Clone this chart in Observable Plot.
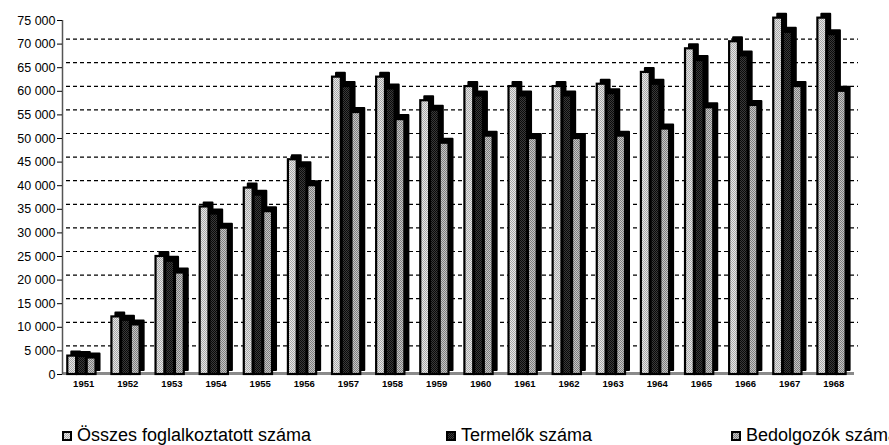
<!DOCTYPE html>
<html>
<head>
<meta charset="utf-8">
<script src="https://cdn.jsdelivr.net/npm/d3@7"></script>
<script src="https://cdn.jsdelivr.net/npm/@observablehq/plot@0.6"></script>
<style>
  html, body { margin: 0; padding: 0; background: #fff; overflow: hidden; width: 889px; height: 445px; }
  #legend { position: relative; height: 45px; width: 889px; overflow: hidden; font-family: "Liberation Sans", Arial, sans-serif; font-size: 18px; color: #000; }
  .item { position: absolute; top: 25px; white-space: nowrap; display: flex; align-items: center; line-height: 20px; }
  .item svg { margin-right: 5px; margin-top: 2px; }
</style>
</head>
<body>
<div id="chart"></div>
<div id="legend"></div>
<script>
const years = [1951,1952,1953,1954,1955,1956,1957,1958,1959,1960,1961,1962,1963,1964,1965,1966,1967,1968];
const osszes =     [3900,12200,25000,35500,39500,45500,63000,63000,58000,61000,61000,61000,61500,64000,69000,70500,75500,75500];
const termelok =   [3800,11500,24000,34000,38000,44000,61000,60500,56000,59000,59000,59000,59500,61500,66500,67500,72500,72000];
const bedolgozok = [3500,10500,21500,31000,34500,40000,55500,54000,49000,50500,50000,50000,50500,52000,56500,57000,61000,60000];
const seriesNames = ["Összes foglalkoztatott száma", "Termelők száma", "Bedolgozók száma"];
const yTicks = d3.range(0, 75001, 5000);
const gridTicks = d3.range(5000, 70001, 5000);

const patterns = ["p1", "p2", "p3"];
const seriesValues = [osszes, termelok, bedolgozok];
const xDomain = [1950.52, 1968.47];

const fmt = d => d3.format(",")(d).replace(/,/g, " ");

const marks = [
  Plot.ruleY(gridTicks, {y: d => d, stroke: "#000", strokeWidth: 1.2, strokeDasharray: "4,3", dx: 4, dy: -5}),
  Plot.ruleY([0], {stroke: "#8a8a8a", strokeWidth: 3, dy: -1}),
  Plot.ruleX([xDomain[0]], {y1: 0, y2: 75000, stroke: "#555", strokeWidth: 1.5})
];
seriesValues.forEach((vals, k) => {
  const rows = years.map((y, i) => ({year: y, value: vals[i]}));
  const x1 = d => d.year - 0.36 + k * 0.22;
  const x2 = d => d.year - 0.36 + k * 0.22 + 0.2;
  marks.push(Plot.rectY(rows, {x1, x2, y1: 0, y2: "value", fill: "#000", stroke: "#000", strokeWidth: 2, strokeLinejoin: "round", dx: 4, dy: -4}));
  marks.push(Plot.rectY(rows, {x1, x2, y1: 0, y2: "value", fill: `url(#${patterns[k]})`, stroke: "#000", strokeWidth: 2.2}));
});
marks.push(Plot.axisY({ticks: yTicks, tickFormat: fmt, tickSize: 5, tickPadding: 2, fontSize: 12.5, label: null}));
marks.push(Plot.axisX({ticks: years, tickFormat: d => String(d), tickSize: 0, tickPadding: 6, fontSize: 9.5, fontWeight: "bold", label: null}));

const chart = Plot.plot({
  width: 889,
  height: 400,
  marginTop: 20,
  marginBottom: 26,
  marginLeft: 62,
  marginRight: 35,
  style: {fontFamily: "'Liberation Sans', Arial, sans-serif", color: "#000", background: "#fff", overflow: "visible"},
  x: {type: "linear", domain: xDomain},
  y: {domain: [0, 75000]},
  marks
});

const ns = "http://www.w3.org/2000/svg";
const defs = document.createElementNS(ns, "defs");
const patDefs = [
  ["p1", "#a8a8a8", "#e6e6e6"],
  ["p2", "#0a0a0a", "#3a3a3a"],
  ["p3", "#7e7e7e", "#c4c4c4"]
];
patDefs.forEach(([id, a, b]) => {
  const p = document.createElementNS(ns, "pattern");
  p.setAttribute("id", id);
  p.setAttribute("width", 2);
  p.setAttribute("height", 2);
  p.setAttribute("patternUnits", "userSpaceOnUse");
  [[0,0,a],[1,0,b],[0,1,b],[1,1,a]].forEach(([x,y,c]) => {
    const r = document.createElementNS(ns, "rect");
    r.setAttribute("x", x); r.setAttribute("y", y);
    r.setAttribute("width", 1); r.setAttribute("height", 1);
    r.setAttribute("fill", c);
    p.appendChild(r);
  });
  defs.appendChild(p);
});
chart.insertBefore(defs, chart.firstChild);
document.getElementById("chart").appendChild(chart);

const legend = document.getElementById("legend");
const lefts = [62, 446, 731];
seriesNames.forEach((name, k) => {
  const item = document.createElement("div");
  item.className = "item";
  item.style.left = lefts[k] + "px";
  item.innerHTML = `<svg width="10" height="10"><rect x="1" y="1" width="8" height="8" fill="url(#${patterns[k]})" stroke="#000" stroke-width="2"/></svg><span>${name}</span>`;
  legend.appendChild(item);
});
</script>
</body>
</html>
